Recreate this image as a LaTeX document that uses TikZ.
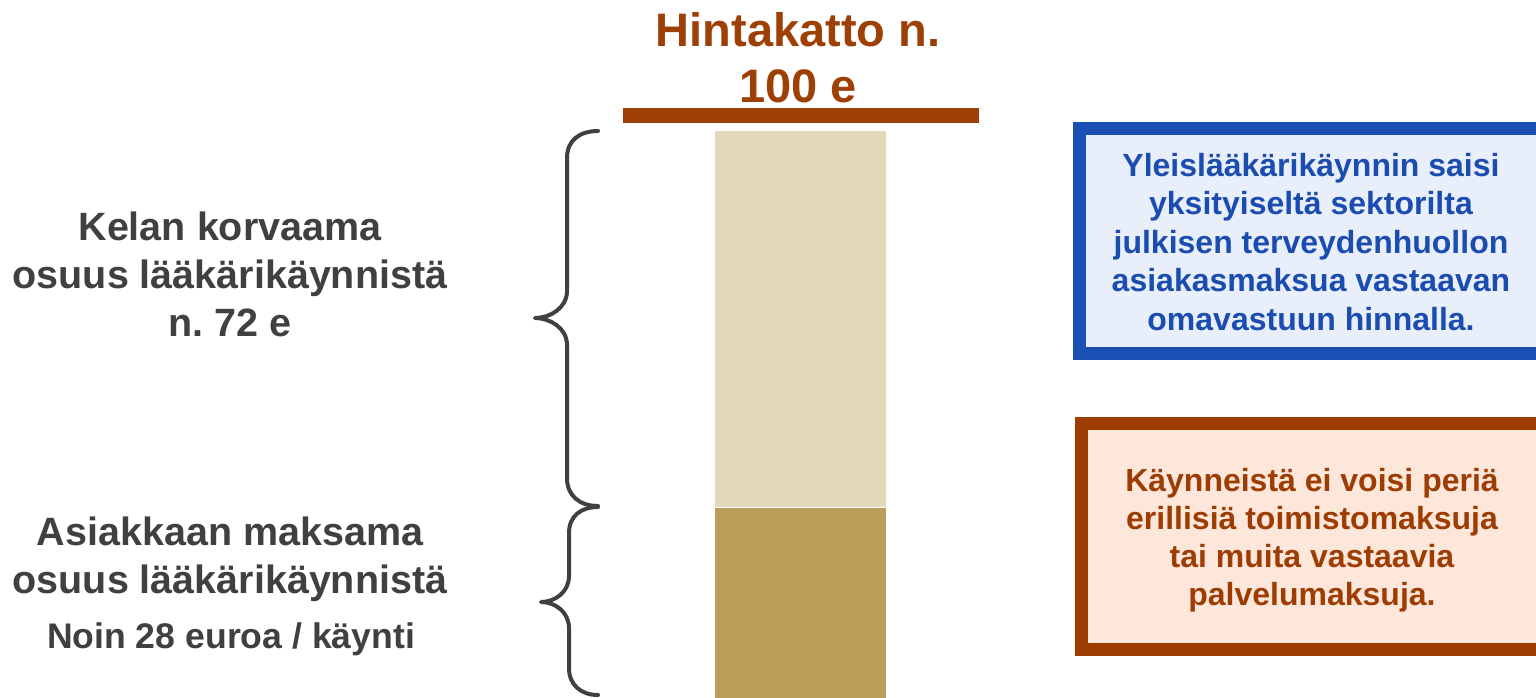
\documentclass[tikz,border=0pt]{standalone}
\usepackage{fontspec}
\setmainfont{Liberation Sans}
\frenchspacing
\definecolor{titlebrown}{HTML}{9E3F05}
\definecolor{labelgrey}{HTML}{404040}
\definecolor{colLight}{HTML}{E2D8BA}
\definecolor{colDark}{HTML}{BB9E5A}
\definecolor{blueText}{HTML}{1A4DAF}
\definecolor{blueLine}{HTML}{1A4FB4}
\definecolor{blueFill}{HTML}{E8EEFA}
\definecolor{oraLine}{HTML}{9E3D03}
\definecolor{oraFill}{HTML}{FDE7DB}
\tikzset{
  lbl/.style={inner sep=0pt, align=center, text=labelgrey, font=\bfseries\fontsize{39.5}{48}\selectfont, anchor=base},
  boxtxt/.style={inner sep=0pt, align=center, font=\bfseries\fontsize{32}{38.5}\selectfont, anchor=base},
  bracestyle/.style={draw=labelgrey, line width=4pt, line cap=round, line join=round},
  infobox/.style={rectangle, line width=12.7pt, inner sep=0pt}
}
\begin{document}
\begin{tikzpicture}[x=1pt,y=-1pt]
\useasboundingbox (0,0) rectangle (1536,698);
\clip (0,0) rectangle (1536,698);
% title (base anchor = baseline of last line)
\node[inner sep=0pt, align=center, text=titlebrown, font=\bfseries\fontsize{47}{56}\selectfont, anchor=base] (title) at (798,103) {Hintakatto n.\\100 e};
\node[fill=titlebrown, inner sep=0pt, minimum width=356pt, minimum height=15pt] (bar) at (801,116) {};
% column
\node[fill=colLight, inner sep=0pt, minimum width=171pt, minimum height=376pt, anchor=north west] (kela) at (715,131) {};
\node[fill=colDark, inner sep=0pt, minimum width=171pt, minimum height=192pt, anchor=north west] (asiakas) at (715,508) {};
% braces
\draw[bracestyle] (598,131) .. controls (580,131) and (567,140) .. (567,158) -- (567,291) .. controls (567,308) and (550,318) .. (535,318) .. controls (550,318) and (567,328) .. (567,345) -- (567,478) .. controls (567,496) and (580,506) .. (598,506);
\draw[bracestyle] (598,507) .. controls (581,507) and (569,516) .. (569,533) -- (569,576) .. controls (569,592) and (555,602) .. (541,602) .. controls (555,602) and (569,612) .. (569,628) -- (569,668) .. controls (569,685) and (581,695) .. (598,695);
% left labels
\node[lbl] (kelaLbl) at (230,336) {Kelan korvaama\\osuus lääkärikäynnistä\\n. 72 e};
\node[lbl] (asLbl) at (230,593) {Asiakkaan maksama\\osuus lääkärikäynnistä};
\node[lbl, font=\bfseries\fontsize{35.6}{42}\selectfont] (asSum) at (231,648) {Noin 28 euroa / käynti};
% boxes
\node[infobox, draw=blueLine, fill=blueFill, minimum width=463pt, minimum height=225.4pt] (bluebox) at (1311,241) {};
\node[boxtxt, text=blueText] (blueTxt) at (1311,330) {Yleislääkärikäynnin saisi\\yksityiseltä sektorilta\\julkisen terveydenhuollon\\asiakasmaksua vastaavan\\omavastuun hinnalla.};
\node[infobox, draw=oraLine, fill=oraFill, minimum width=461pt, minimum height=226.3pt] (orabox) at (1312,536.5) {};
\node[boxtxt, text=oraLine, font=\bfseries\fontsize{32}{37.7}\selectfont] (oraTxt) at (1312,605) {Käynneistä ei voisi periä\\erillisiä toimistomaksuja\\tai muita vastaavia\\palvelumaksuja.};
\end{tikzpicture}
\end{document}
